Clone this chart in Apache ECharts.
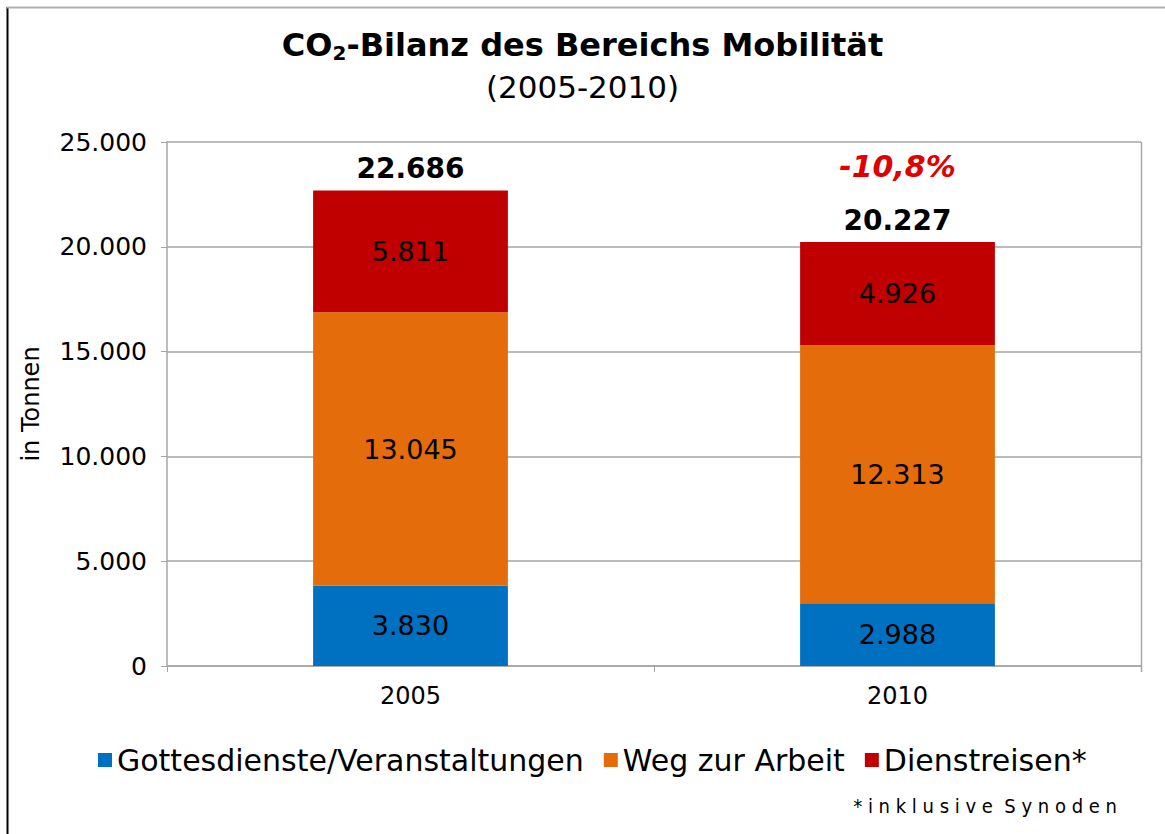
<!DOCTYPE html>
<html>
<head>
<meta charset="utf-8">
<script src="https://cdn.jsdelivr.net/npm/echarts@6/dist/echarts.min.js"></script>
<style>
  html, body { margin: 0; padding: 0; background: #fff; }
  #chart { width: 1165px; height: 834px; }
</style>
</head>
<body>
<div id="chart"></div>
<script>
var years = ['2005', '2010'];
var gottesdienste = [3830, 2988];
var weg = [13045, 12313];
var dienstreisen = [5811, 4926];
var totals = [22686, 20227];
var change = '-10,8%';
var seriesNames = ['Gottesdienste/Veranstaltungen', 'Weg zur Arbeit', 'Dienstreisen*'];

(function() {
  var font = 'DejaVu Sans';
  var cond = 'DejaVu Sans Condensed';
  var blue = '#0070C0', orange = '#E46C0A', red = '#C00000';

  function fmt(v) {
    return String(v).replace(/\B(?=(\d{3})+(?!\d))/g, '.');
  }

  var chart = echarts.init(document.getElementById('chart'), null, { renderer: 'svg' });
  var segLabel = {
    show: true, position: 'inside', color: '#000', fontFamily: font, fontSize: 27,
    formatter: function(p) { return fmt(p.value); }
  };

  chart.setOption({
    animation: false,
    textStyle: { fontFamily: font },
    title: {
      text: '{b|CO}{s|2}{b|-Bilanz des Bereichs Mobilität}\n{n|(2005-2010)}',
      left: 'center', top: 19,
      textStyle: {
        rich: {
          b: { fontFamily: font, fontWeight: 'bold', fontSize: 32, color: '#000', lineHeight: 42 },
          s: { fontFamily: font, fontWeight: 'bold', fontSize: 20, color: '#000', padding: [16, 0, 0, 0], lineHeight: 42 },
          n: { fontFamily: font, fontWeight: 'normal', fontSize: 31, color: '#000', lineHeight: 42 }
        }
      }
    },
    legend: {
      top: 740, left: 93,
      itemWidth: 14, itemHeight: 14, itemGap: 20,
      icon: 'rect',
      textStyle: { fontFamily: font, fontSize: 30, color: '#000' },
      data: seriesNames
    },
    grid: { left: 167, right: 24, top: 142, bottom: 168 },
    xAxis: {
      type: 'category',
      data: years,
      axisLine: { lineStyle: { color: '#a6a6a6', width: 1.5 } },
      axisTick: { show: true, length: 6, lineStyle: { color: '#a6a6a6' } },
      axisLabel: { color: '#000', fontSize: 24, margin: 18, fontFamily: font }
    },
    yAxis: {
      type: 'value', min: 0, max: 25000, interval: 5000,
      name: 'in Tonnen', nameLocation: 'middle', nameGap: 124,
      nameTextStyle: { color: '#000', fontSize: 24, fontFamily: font },
      axisLine: { show: true, lineStyle: { color: '#a6a6a6', width: 1.5 } },
      axisTick: { show: true, length: 6, lineStyle: { color: '#a6a6a6' } },
      splitLine: { lineStyle: { color: '#a6a6a6', width: 1.5 } },
      axisLabel: { color: '#000', fontSize: 25, margin: 20, fontFamily: font, formatter: fmt }
    },
    graphic: [
      { type: 'line', shape: { x1: 7.5, y1: 7, x2: 7.5, y2: 834 }, style: { stroke: '#000', lineWidth: 2 } },
      { type: 'line', shape: { x1: 7, y1: 7.5, x2: 1165, y2: 7.5 }, style: { stroke: '#b0b0b0', lineWidth: 2 } },
      { type: 'line', shape: { x1: 1141.5, y1: 142, x2: 1141.5, y2: 672 }, style: { stroke: '#a6a6a6', lineWidth: 1.5 } },
      {
        type: 'text', right: 48, bottom: 18,
        style: { text: '* i n k l u s i v e  S y n o d e n', fontFamily: cond, fontSize: 20, fill: '#000' }
      }
    ],
    series: [
      { name: seriesNames[0], type: 'bar', stack: 'a', barWidth: '40%', data: gottesdienste, itemStyle: { color: blue }, label: segLabel },
      { name: seriesNames[1], type: 'bar', stack: 'a', data: weg, itemStyle: { color: orange }, label: segLabel },
      { name: seriesNames[2], type: 'bar', stack: 'a', data: dienstreisen, itemStyle: { color: red }, label: segLabel },
      {
        name: 'Summe', type: 'bar', stack: 'a', data: [0, 0], silent: true,
        itemStyle: { color: 'transparent' },
        label: {
          show: true, position: 'top', distance: 8,
          formatter: function(p) {
            var t = '{t|' + fmt(totals[p.dataIndex]) + '}';
            return p.dataIndex === 1 ? '{c|' + change + '}\n{g|}\n' + t : t;
          },
          rich: {
            t: { fontFamily: font, fontWeight: 'bold', fontSize: 28, color: '#000', lineHeight: 28 },
            c: { fontFamily: font, fontWeight: 'bold', fontStyle: 'italic', fontSize: 30, color: '#E00000', lineHeight: 28 },
            g: { lineHeight: 26 }
          }
        }
      }
    ]
  });
  window.addEventListener('resize', function() { chart.resize(); });
})();
</script>
</body>
</html>
